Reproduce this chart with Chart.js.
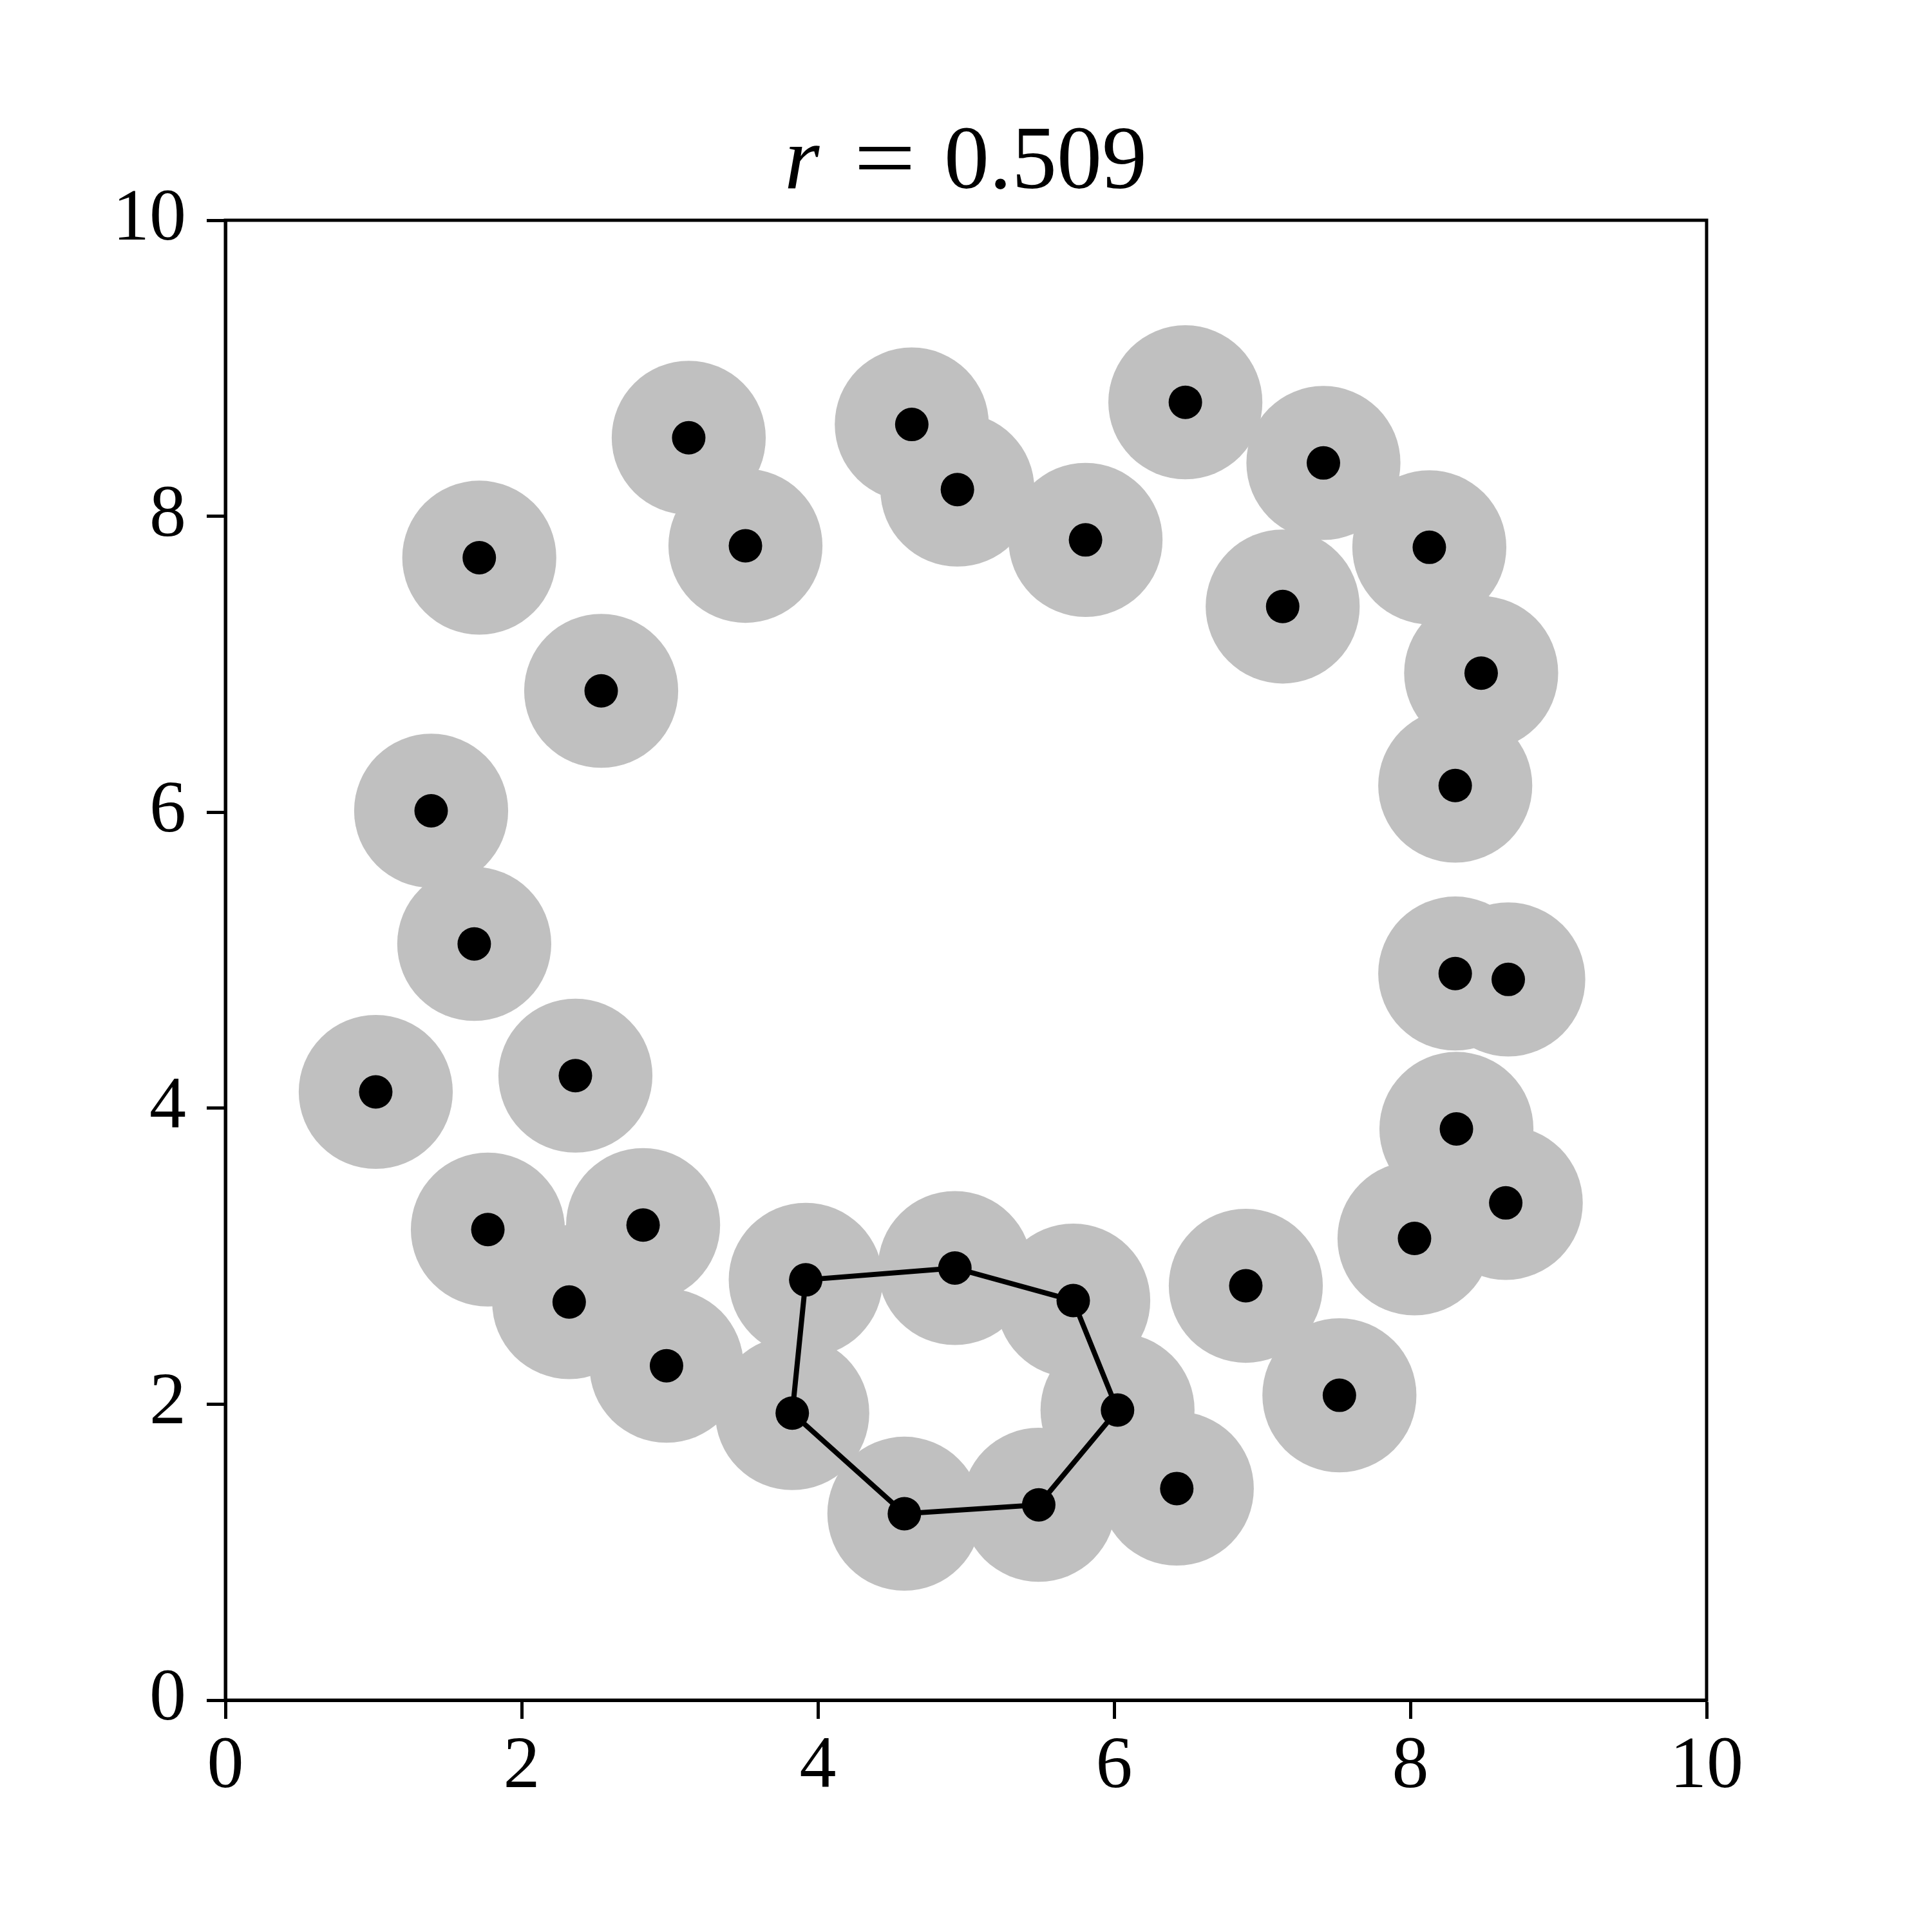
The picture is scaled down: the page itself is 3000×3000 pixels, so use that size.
<!DOCTYPE html>
<html>
<head>
<meta charset="utf-8">
<script src="https://cdn.jsdelivr.net/npm/chart.js@4.4.1/dist/chart.umd.min.js"></script>
<style>
  html, body { margin: 0; padding: 0; background: #fff; }
  canvas { display: block; }
</style>
</head>
<body>
<canvas id="discChart" width="3000" height="3000"></canvas>
<script>
/* ===========================
   DATA
=========================== */

// point centres (data units)
const pointX = [1.714, 3.128, 3.511, 2.537, 1.389, 1.680, 1.015, 2.363, 1.772, 2.820,
                2.321, 2.978, 3.827, 3.918, 4.925, 5.724, 6.023, 5.491, 4.584, 6.423,
                6.889, 7.521, 8.028, 8.644, 8.311, 8.303, 8.661, 8.303, 8.478, 8.128,
                7.138, 7.413, 6.481, 5.807, 4.942, 4.634];
const pointY = [7.72, 8.53, 7.80, 6.82, 6.01, 5.11, 4.11, 4.22, 3.18, 3.21,
                2.69, 2.26, 1.94, 2.84, 2.92, 2.70, 1.96, 1.32, 1.26, 1.43,
                2.80, 2.06, 3.12, 3.36, 3.86, 4.91, 4.87, 6.18, 6.94, 7.79,
                7.39, 8.36, 8.77, 7.84, 8.18, 8.62];

// the closed cycle, as indices into the points above
const cycleOrder = [13, 14, 15, 16, 17, 18, 12, 13];

// radius of the grey discs (data units)
const discRadius = 0.52;

const axisTicks = [0, 2, 4, 6, 8, 10];
const titleValue = "0.509";

/* ===========================
   BUILD DATASETS
=========================== */

const points = pointX.map((x, i) => ({ x: x, y: pointY[i] }));
const cycle = cycleOrder.map(i => points[i]);

// disc radius in pixels
function discPixels(ctx) {
    const s = ctx.chart.scales.x;
    return Math.abs(s.getPixelForValue(discRadius) - s.getPixelForValue(0));
}

// outer box + title
const framePlugin = {
    id: 'frame',
    afterDraw(chart) {
        const c = chart.ctx;
        const a = chart.chartArea;
        c.save();
        c.strokeStyle = '#000';
        c.lineWidth = 5;
        c.strokeRect(a.left, a.top, a.right - a.left, a.bottom - a.top);

        // title: italic r, wide equals sign, upright number
        const size = 140;
        const cx = (a.left + a.right) / 2;
        const base = 292;
        c.fillStyle = '#000';
        c.textBaseline = 'alphabetic';

        c.font = 'italic ' + size + 'px "Liberation Serif"';
        c.textAlign = 'left';
        c.fillText('r', cx - 282, base);

        c.font = size + 'px "Liberation Serif"';
        c.save();
        c.translate(cx - 126, base);
        c.scale(1.22, 1);
        c.textAlign = 'center';
        c.fillText('=', 0, 0);
        c.restore();

        c.textAlign = 'left';
        c.fillText(titleValue, cx - 34, base);
        c.restore();
    }
};

/* ===========================
   CHART.JS CONFIGURATION
=========================== */

const tickFont = { family: '"Liberation Serif"', size: 114 };

new Chart(document.getElementById('discChart'), {
    type: 'scatter',
    data: {
        datasets: [
            {
                // black centres, on top
                data: points,
                order: 0,
                pointRadius: 26,
                pointBackgroundColor: '#000',
                pointBorderWidth: 0,
                showLine: false
            },
            {
                // the cycle
                data: cycle,
                order: 1,
                showLine: true,
                borderColor: '#000',
                borderWidth: 8,
                pointRadius: 0,
                tension: 0
            },
            {
                // grey discs
                data: points,
                order: 2,
                pointRadius: discPixels,
                pointBackgroundColor: '#c0c0c0',
                pointBorderWidth: 0,
                showLine: false
            }
        ]
    },
    options: {
        responsive: false,
        animation: false,
        devicePixelRatio: 1,
        layout: { padding: { top: 342, right: 350, left: 0, bottom: 0 } },
        plugins: {
            legend: { display: false },
            tooltip: { enabled: false },
            title: { display: false }
        },
        scales: {
            x: {
                type: 'linear',
                min: 0,
                max: 10,
                afterFit(scale) { scale.height = 360; },
                afterBuildTicks(scale) { scale.ticks = axisTicks.map(v => ({ value: v })); },
                grid: { drawOnChartArea: false, drawTicks: true, tickLength: 29, tickWidth: 5, tickColor: '#000' },
                border: { display: true, color: '#000', width: 5 },
                ticks: { color: '#000', font: tickFont, padding: 8, maxRotation: 0 }
            },
            y: {
                type: 'linear',
                min: 0,
                max: 10,
                afterFit(scale) { scale.width = 350; },
                afterBuildTicks(scale) { scale.ticks = axisTicks.map(v => ({ value: v })); },
                grid: { drawOnChartArea: false, drawTicks: true, tickLength: 29, tickWidth: 5, tickColor: '#000' },
                border: { display: true, color: '#000', width: 5 },
                ticks: { color: '#000', font: tickFont, padding: 32 }
            }
        }
    },
    plugins: [framePlugin]
});
</script>
</body>
</html>
